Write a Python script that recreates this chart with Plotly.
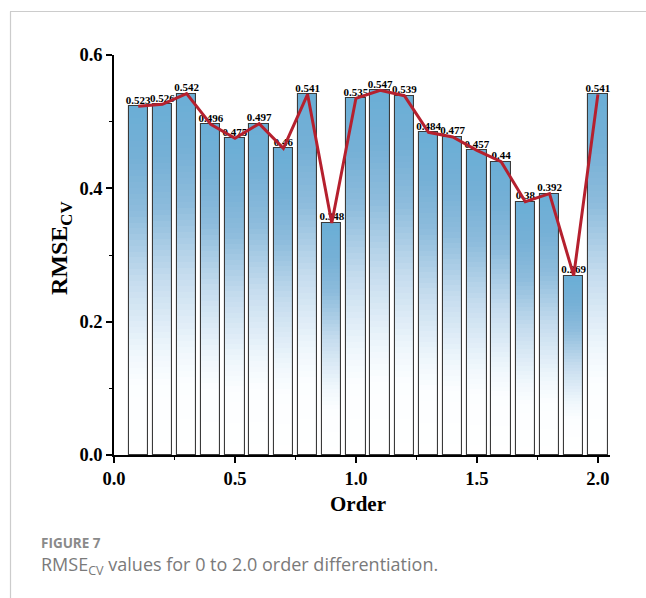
import plotly.graph_objects as go

# ---- data ----
orders = [0.1, 0.2, 0.3, 0.4, 0.5, 0.6, 0.7, 0.8, 0.9, 1.0,
          1.1, 1.2, 1.3, 1.4, 1.5, 1.6, 1.7, 1.8, 1.9, 2.0]
rmse_cv = [0.523, 0.526, 0.542, 0.496, 0.475, 0.497, 0.46, 0.541, 0.348, 0.535,
           0.547, 0.539, 0.484, 0.477, 0.457, 0.44, 0.38, 0.392, 0.269, 0.541]
labels = [str(v) for v in rmse_cv]
x_ticks = [0.0, 0.5, 1.0, 1.5, 2.0]
y_ticks = [0.0, 0.2, 0.4, 0.6]

# ---- style ----
SERIF = "Liberation Serif"
BAR_W = 0.08
N_SEG = 60
# gradient stops: (fraction from bar bottom, rgb)
stops = [(0.0, (255, 255, 255)), (0.2, (252, 254, 255)), (0.3, (238, 246, 252)),
         (0.5, (197, 220, 238)), (0.7, (141, 188, 220)), (0.85, (118, 176, 214)),
         (1.0, (106, 174, 214))]


def grad_color(f):
    for (f0, c0), (f1, c1) in zip(stops[:-1], stops[1:]):
        if f0 <= f <= f1:
            t = (f - f0) / (f1 - f0) if f1 > f0 else 0
            c = [round(a + (b - a) * t) for a, b in zip(c0, c1)]
            return "rgb(%d,%d,%d)" % tuple(c)
    return "rgb(%d,%d,%d)" % stops[-1][1]


fig = go.Figure()

# gradient-filled bars drawn as stacked slices of each bar's own height
for k in range(N_SEG):
    f0 = k / N_SEG
    f1 = min(1.0, (k + 1.6) / N_SEG)
    fig.add_trace(go.Bar(
        x=orders,
        y=[v * (f1 - f0) for v in rmse_cv],
        base=[v * f0 for v in rmse_cv],
        width=BAR_W,
        marker=dict(color=grad_color((k + 0.5) / N_SEG), line=dict(width=0)),
        hoverinfo="skip", showlegend=False,
    ))

# outline
fig.add_trace(go.Bar(
    x=orders, y=rmse_cv, width=BAR_W,
    marker=dict(color="rgba(0,0,0,0)", line=dict(color="#3a3a3a", width=1.1)),
    showlegend=False, hoverinfo="skip",
))

# value labels
fig.add_trace(go.Scatter(
    x=orders, y=rmse_cv, mode="text", text=labels,
    textposition="top center",
    textfont=dict(family=SERIF, size=11, color="black", weight="bold"),
    showlegend=False, hoverinfo="skip", cliponaxis=False,
))

# red line
fig.add_trace(go.Scatter(
    x=orders, y=rmse_cv, mode="lines",
    line=dict(color="#b5202e", width=3),
    showlegend=False, cliponaxis=False,
))

L, R, T, B = 114, 36, 55, 143
W, H = 646, 598
pw, ph = W - L - R, H - T - B


def px_x(p):
    return (p - L) / pw


def px_y(p):
    return (H - B - p) / ph


fig.update_layout(
    width=W, height=H,
    margin=dict(l=L, r=R, t=T, b=B),
    barmode="overlay",
    bargap=0,
    plot_bgcolor="white", paper_bgcolor="white",
    font=dict(family=SERIF, color="black"),
    xaxis=dict(
        range=[0, 2.05], tickvals=x_ticks, ticktext=["%.1f" % t for t in x_ticks],
        showgrid=False, zeroline=False, showline=True, linecolor="black", linewidth=1.5,
        ticks="outside", ticklen=6, tickwidth=1.5, tickcolor="black",
        minor=dict(dtick=0.25, ticks="outside", ticklen=3, tickwidth=1.2, tickcolor="black"),
        tickfont=dict(family=SERIF, size=18.5, weight="bold"),
        fixedrange=True,
    ),
    yaxis=dict(
        range=[0, 0.6], tickvals=y_ticks, ticktext=["%.1f" % t for t in y_ticks],
        showgrid=False, zeroline=False, showline=True, linecolor="black", linewidth=1.5,
        ticks="outside", ticklen=6, tickwidth=1.5, tickcolor="black",
        minor=dict(dtick=0.1, ticks="outside", ticklen=3, tickwidth=1.2, tickcolor="black"),
        tickfont=dict(family=SERIF, size=18.5, weight="bold"),
        fixedrange=True,
    ),
    shapes=[
        dict(type="line", xref="paper", yref="paper",
             x0=px_x(10), x1=px_x(W + 5), y0=px_y(11.5), y1=px_y(11.5),
             line=dict(color="#cccccc", width=1.2)),
        dict(type="line", xref="paper", yref="paper",
             x0=px_x(10.5), x1=px_x(10.5), y0=px_y(11.5), y1=px_y(H + 5),
             line=dict(color="#cccccc", width=1.2)),
    ],
    annotations=[
        dict(text="RMSE<sub>CV</sub>", xref="paper", yref="paper",
             x=px_x(61), y=px_y(248), textangle=-90, showarrow=False,
             font=dict(family=SERIF, size=24, weight="bold", color="black"),
             xanchor="center", yanchor="middle"),
        dict(text="Order", xref="paper", yref="paper",
             x=px_x(358), y=px_y(504), showarrow=False,
             font=dict(family=SERIF, size=21, weight="bold", color="black"),
             xanchor="center", yanchor="middle"),
        dict(text="FIGURE 7", xref="paper", yref="paper",
             x=px_x(39), y=px_y(543), showarrow=False,
             font=dict(family="Open Sans", size=13.5, weight="bold", color="#8a8a8a"),
             xanchor="left", yanchor="middle"),
        dict(text="RMSE<sub>CV</sub> values for 0 to 2.0 order differentiation.",
             xref="paper", yref="paper",
             x=px_x(39), y=px_y(565), showarrow=False,
             font=dict(family="Open Sans", size=18, color="#7a7a7a"),
             xanchor="left", yanchor="middle"),
    ],
)

fig.write_html("out.html")
